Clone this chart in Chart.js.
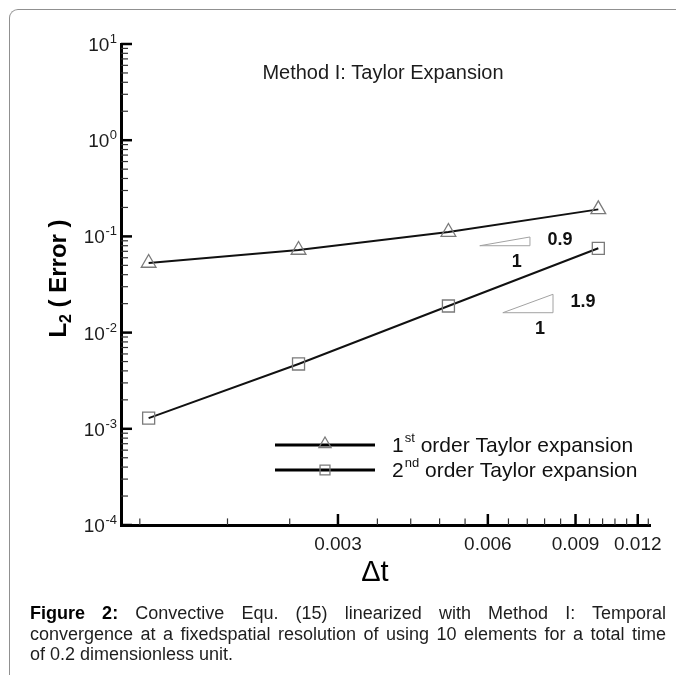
<!DOCTYPE html>
<html>
<head>
<meta charset="utf-8">
<title>Temporal convergence, Method I</title>
<script src="https://cdn.jsdelivr.net/npm/chart.js@4.4.1/dist/chart.umd.min.js"></script>
<style>
  html, body { margin: 0; padding: 0; background: #fff; overflow: hidden; }
  #page { position: relative; width: 676px; height: 675px; overflow: hidden; background: #fff; }
  #frame {
    position: absolute; left: 9px; top: 9px; width: 720px; height: 720px;
    border-left: 1px solid #909090; border-top: 1px solid #909090;
    border-top-left-radius: 9px; box-sizing: border-box;
  }
  #plot { position: absolute; left: 0; top: 0; }
  #caption {
    position: absolute; left: 30px; top: 603px; width: 636px;
    font-family: "Liberation Sans", Arial, Helvetica, sans-serif;
    font-size: 18px; line-height: 20.5px; color: #1e1e1e;
  }
  #caption .full { text-align: justify; text-align-last: justify; }
  #caption .last { text-align: left; }
  #caption b { color: #000; }
</style>
</head>
<body>
<div id="page">
  <div id="frame"></div>
  <canvas id="plot" width="676" height="675"></canvas>
  <div id="caption">
    <div class="full"><b>Figure 2:</b> Convective Equ. (15) linearized with Method I: Temporal</div>
    <div class="full">convergence at a fixedspatial resolution of using 10 elements for a total time</div>
    <div class="last">of 0.2 dimensionless unit.</div>
  </div>
</div>
<script>
// Time step sizes and L2 errors of the two schemes
const dtValues = [0.00125, 0.0025, 0.005, 0.01];
const errFirstOrder = [0.0529, 0.0722, 0.111, 0.191];
const errSecondOrder = [0.00129, 0.00472, 0.0189, 0.0752];

// Axis ticks
const yTickExponents = [-4, -3, -2, -1, 0, 1];
const xTickValues = [0.003, 0.006, 0.009, 0.012];
const xTickLabels = ['0.003', '0.006', '0.009', '0.012'];
const xMinorStep = 0.0006;

// Legend entries: number, ordinal suffix, remaining text
const seriesNames = [
  ['1', 'st', ' order Taylor expansion'],
  ['2', 'nd', ' order Taylor expansion']
];

// Reference slope triangles: slope, label, base start/end (dt) and base error level
const slopeValues = [0.9, 1.9];
const slopeLabels = ['0.9', '1.9'];
const slopeBaseFrom = [0.00578, 0.00643];
const slopeBaseTo = [0.00729, 0.00811];
const slopeBaseErr = [0.080, 0.0161];

const plotTitle = 'Method I: Taylor Expansion';
const xTitle = '\u0394t';
const yTitleParts = ['L', '2', ' ( Error )'];

const FONT = '"Liberation Sans", Arial, Helvetica, sans-serif';
const MARKER_COLOR = '#7a7a7a';

function toPoints(xs, ys) {
  return xs.map((v, i) => ({ x: v, y: ys[i] }));
}

function slopeTriangle(i) {
  const x0 = slopeBaseFrom[i], x1 = slopeBaseTo[i], y0 = slopeBaseErr[i];
  const yTop = y0 * Math.pow(x1 / x0, slopeValues[i]);
  return [{ x: x0, y: y0 }, { x: x1, y: y0 }, { x: x1, y: yTop }, { x: x0, y: y0 }];
}

function drawMarker(ctx, style, cx, cy, r) {
  ctx.beginPath();
  if (style === 'triangle') {
    const s = Math.sin(Math.PI / 3) * r;
    ctx.moveTo(cx, cy - r);
    ctx.lineTo(cx + s, cy + r / 2);
    ctx.lineTo(cx - s, cy + r / 2);
    ctx.closePath();
  } else {
    const h = Math.SQRT1_2 * r;
    ctx.rect(cx - h, cy - h, 2 * h, 2 * h);
  }
  ctx.stroke();
}

function line(ctx, x1, y1, x2, y2, w, color) {
  ctx.beginPath();
  ctx.lineWidth = w;
  ctx.strokeStyle = color;
  ctx.moveTo(x1, y1);
  ctx.lineTo(x2, y2);
  ctx.stroke();
}

// Inner tick marks, tick labels, titles, slope labels and legend
const decorations = {
  id: 'decorations',
  afterDraw(chart) {
    const { ctx, chartArea: a, scales: { x, y } } = chart;
    ctx.save();
    ctx.lineCap = 'butt';

    // y ticks (pointing into the plot)
    yTickExponents.forEach((e, k) => {
      const py = y.getPixelForValue(Math.pow(10, e));
      line(ctx, a.left, py, a.left + 11, py, 2.5, '#000');
      if (k < yTickExponents.length - 1) {
        for (let m = 2; m <= 9; m++) {
          const pm = y.getPixelForValue(m * Math.pow(10, e));
          line(ctx, a.left, pm, a.left + 7, pm, 1.2, '#333');
        }
      }
    });

    // x ticks
    for (let i = 2; i * xMinorStep <= x.max + 1e-12; i++) {
      const v = i * xMinorStep;
      const px = x.getPixelForValue(v);
      const major = xTickValues.some(t => Math.abs(t - v) < 1e-9);
      if (major) line(ctx, px, a.bottom, px, a.bottom - 11, 2.5, '#000');
      else line(ctx, px, a.bottom, px, a.bottom - 6.6, 1.2, '#333');
    }

    ctx.fillStyle = '#1c1c1c';

    // y tick labels: 10 with superscript exponent
    yTickExponents.forEach(e => {
      const py = y.getPixelForValue(Math.pow(10, e));
      const right = a.left - 4;
      const sup = String(e);
      ctx.font = '13px ' + FONT;
      const supW = ctx.measureText(sup).width;
      ctx.textAlign = 'left';
      ctx.textBaseline = 'alphabetic';
      ctx.fillText(sup, right - supW, py - 1);
      ctx.font = '19px ' + FONT;
      ctx.textAlign = 'right';
      ctx.fillText('10', right - supW - 0.5, py + 7);
    });

    // x tick labels
    ctx.font = '19px ' + FONT;
    ctx.textAlign = 'center';
    ctx.textBaseline = 'alphabetic';
    xTickValues.forEach((v, i) => {
      ctx.fillText(xTickLabels[i], x.getPixelForValue(v), a.bottom + 25);
    });

    // axis titles
    ctx.fillStyle = '#000';
    ctx.font = '29px ' + FONT;
    ctx.fillText(xTitle, (x.getPixelForValue(0.003) + x.getPixelForValue(0.006)) / 2 - 38, a.bottom + 56);

    ctx.save();
    ctx.translate(66, (a.top + a.bottom) / 2 - 6);
    ctx.rotate(-Math.PI / 2);
    const fMain = 'bold 24px ' + FONT, fSub = 'bold 16px ' + FONT;
    ctx.font = fMain;
    const w0 = ctx.measureText(yTitleParts[0]).width;
    const w2 = ctx.measureText(yTitleParts[2]).width;
    ctx.font = fSub;
    const w1 = ctx.measureText(yTitleParts[1]).width;
    let cx = -(w0 + w1 + w2) / 2;
    ctx.textAlign = 'left';
    ctx.font = fMain; ctx.fillText(yTitleParts[0], cx, 0); cx += w0;
    ctx.font = fSub; ctx.fillText(yTitleParts[1], cx, 5); cx += w1;
    ctx.font = fMain; ctx.fillText(yTitleParts[2], cx, 0);
    ctx.restore();

    // plot title
    ctx.font = '20px ' + FONT;
    ctx.textAlign = 'center';
    ctx.fillStyle = '#1c1c1c';
    ctx.fillText(plotTitle, 383, a.top + 35);

    // slope labels
    ctx.font = 'bold 18px ' + FONT;
    ctx.fillStyle = '#111';
    slopeValues.forEach((s, i) => {
      const tri = slopeTriangle(i);
      const xl = x.getPixelForValue(tri[0].x), xr = x.getPixelForValue(tri[1].x);
      const yb = y.getPixelForValue(tri[1].y), yt = y.getPixelForValue(tri[2].y);
      ctx.textAlign = 'center';
      ctx.textBaseline = 'middle';
      ctx.fillText(slopeLabels[i], xr + 30, (yb + yt) / 2 - 1);
      ctx.fillText('1', (xl + xr) / 2 + 12, yb + 16);
    });

    // legend
    const styles = ['triangle', 'rect'];
    seriesNames.forEach((parts, i) => {
      const ly = 445 + i * 25;
      line(ctx, 275, ly, 375, ly, 3, '#000');
      ctx.lineWidth = 1.3;
      ctx.strokeStyle = MARKER_COLOR;
      drawMarker(ctx, styles[i], 325, ly - (i === 0 ? 1 : 0), 7);
      ctx.fillStyle = '#111';
      ctx.textAlign = 'left';
      ctx.textBaseline = 'alphabetic';
      let tx = 392;
      const base = ly + 7;
      ctx.font = '21px ' + FONT;
      ctx.fillText(parts[0], tx, base);
      tx += ctx.measureText(parts[0]).width + 1;
      ctx.font = '13px ' + FONT;
      ctx.fillText(parts[1], tx, base - 10);
      tx += ctx.measureText(parts[1]).width;
      ctx.font = '21px ' + FONT;
      ctx.fillText(parts[2], tx, base);
    });

    ctx.restore();
  }
};

const slopeStyle = { borderColor: '#a2a2a2', borderWidth: 1, pointRadius: 0, fill: false, tension: 0 };
const seriesStyle = {
  borderColor: '#111', borderWidth: 2, tension: 0, fill: false,
  pointRadius: 8.5, pointBorderWidth: 1.3, pointBorderColor: MARKER_COLOR,
  pointBackgroundColor: 'rgba(0,0,0,0)'
};

new Chart(document.getElementById('plot'), {
  type: 'line',
  data: {
    datasets: [
      Object.assign({ label: 'slope ' + slopeLabels[0], data: slopeTriangle(0) }, slopeStyle),
      Object.assign({ label: 'slope ' + slopeLabels[1], data: slopeTriangle(1) }, slopeStyle),
      Object.assign({ label: '1st order Taylor expansion', data: toPoints(dtValues, errFirstOrder), pointStyle: 'triangle' }, seriesStyle),
      Object.assign({ label: '2nd order Taylor expansion', data: toPoints(dtValues, errSecondOrder), pointStyle: 'rect' }, seriesStyle)
    ]
  },
  options: {
    responsive: false,
    devicePixelRatio: 1,
    animation: false,
    layout: { padding: { top: 44, right: 26, bottom: 0, left: 0 } },
    plugins: { legend: { display: false }, tooltip: { enabled: false }, title: { display: false } },
    scales: {
      x: {
        type: 'logarithmic', position: 'bottom', min: 0.0011, max: 0.0127,
        grid: { display: false, drawTicks: false },
        border: { display: true, color: '#000', width: 3 },
        ticks: { display: false },
        afterFit(s) { s.height = 150; }
      },
      y: {
        type: 'logarithmic', position: 'left', min: 1e-4, max: 10,
        grid: { display: false, drawTicks: false },
        border: { display: true, color: '#000', width: 3 },
        ticks: { display: false },
        afterFit(s) { s.width = 121; }
      }
    }
  },
  plugins: [decorations]
});
</script>
</body>
</html>
